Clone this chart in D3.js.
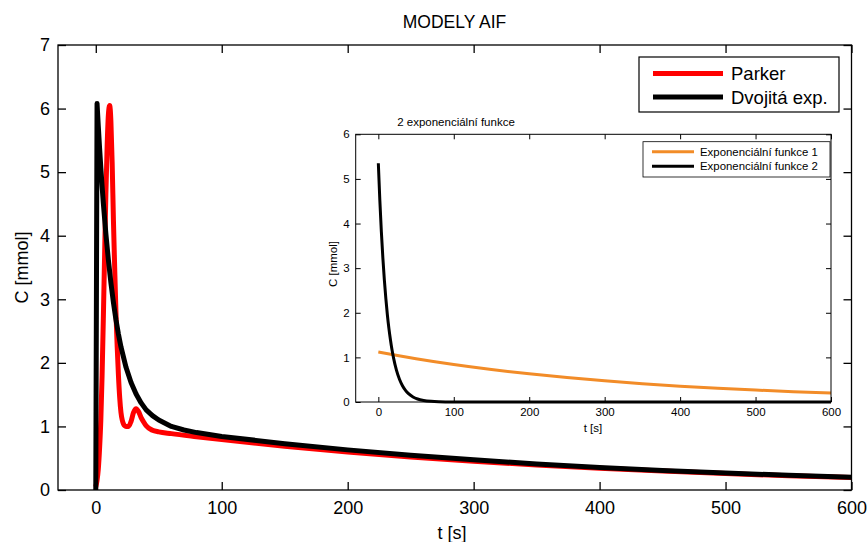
<!DOCTYPE html>
<html>
<head>
<meta charset="utf-8">
<script src="https://cdn.jsdelivr.net/npm/d3@7"></script>
<style>
  html, body { margin: 0; padding: 0; background: #fff; }
  svg { display: block; font-family: "Liberation Sans", Arial, sans-serif; }
</style>
</head>
<body>
<svg id="chart" width="867" height="542"></svg>
<script>
// ---- Main plot data: time [s] and concentration [mmol] ----
const parkerTime = [0, 1, 2, 3, 4, 5, 6, 7, 8, 9, 10, 11, 12, 13, 14, 15, 16, 17, 18, 19, 20, 21, 22, 23, 24, 26, 28, 30, 32, 34, 36, 38, 40, 45, 50, 60, 80, 100, 150, 200, 250, 300, 350, 400, 450, 500, 550, 600];
const parkerConc = [0.05, 0.15, 0.33, 0.65, 1.1, 1.8, 2.7, 3.7, 4.65, 5.4, 5.9, 6.05, 5.8, 5.15, 4.25, 3.5, 2.8, 2.25, 1.8, 1.45, 1.22, 1.1, 1.04, 1.01, 1.0, 1.0, 1.08, 1.22, 1.28, 1.23, 1.14, 1.07, 1.01, 0.94, 0.914, 0.887, 0.839, 0.793, 0.689, 0.599, 0.520, 0.452, 0.393, 0.342, 0.297, 0.258, 0.224, 0.195];

const dualTime = [0, 1, 2, 3, 4, 5, 6, 8, 10, 12, 14, 16, 18, 20, 24, 28, 32, 36, 40, 45, 50, 60, 70, 80, 100, 150, 200, 250, 300, 350, 400, 450, 500, 550, 600];
const dualConc = [0, 6.08, 5.72, 5.38, 5.07, 4.78, 4.51, 4.03, 3.62, 3.26, 2.95, 2.68, 2.45, 2.25, 1.93, 1.69, 1.51, 1.37, 1.26, 1.17, 1.10, 1.00, 0.944, 0.903, 0.843, 0.728, 0.631, 0.547, 0.474, 0.410, 0.355, 0.308, 0.267, 0.231, 0.200];

// ---- Inset data: the two exponential components ----
const exp1Time = [0, 50, 100, 150, 200, 250, 300, 350, 400, 450, 500, 550, 600];
const exp1Conc = [1.12, 0.970, 0.840, 0.728, 0.631, 0.547, 0.474, 0.410, 0.355, 0.308, 0.267, 0.231, 0.200];

const exp2Time = [0, 2, 4, 6, 8, 10, 12, 14, 16, 18, 20, 24, 28, 32, 36, 40, 46, 52, 60, 70, 80, 100, 120, 150, 200, 300, 400, 500, 600];
const exp2Conc = [5.35, 4.52, 3.82, 3.23, 2.73, 2.31, 1.95, 1.65, 1.40, 1.18, 1.00, 0.713, 0.509, 0.364, 0.260, 0.186, 0.112, 0.068, 0.035, 0.015, 0.0065, 0.0012, 0.0002, 0, 0, 0, 0, 0, 0];

// ---- Ticks and labels ----
const xTicks = [0, 100, 200, 300, 400, 500, 600];
const yTicksMain = [0, 1, 2, 3, 4, 5, 6, 7];
const yTicksInset = [0, 1, 2, 3, 4, 5, 6];
const mainTitle = "MODELY AIF";
const insetTitle = "2 exponenciální funkce";
const xLabel = "t [s]";
const yLabel = "C [mmol]";
const mainLegend = ["Parker", "Dvojitá exp."];
const insetLegend = ["Exponenciální funkce 1", "Exponenciální funkce 2"];

const RED = "#ff0000", BLACK = "#000000", ORANGE = "#f28c28";

const svg = d3.select("#chart");

function zip(ts, cs) { return ts.map((t, i) => [t, cs[i]]); }

// Draws a boxed axes with inward ticks on all four sides
function drawAxes(g, x, y, opts) {
  const [x0, x1] = x.range();
  const [y0, y1] = y.range();
  const ts = opts.tickSize;
  g.append("g").attr("transform", `translate(0,${y0})`)
    .call(d3.axisBottom(x).tickValues(opts.xTicks).tickSize(-ts).tickPadding(opts.xPad).tickFormat(d3.format("d")))
    .call(a => a.select(".domain").remove());
  g.append("g").attr("transform", `translate(0,${y1})`)
    .call(d3.axisTop(x).tickValues(opts.xTicks).tickSize(-ts).tickFormat(""))
    .call(a => a.select(".domain").remove());
  g.append("g").attr("transform", `translate(${x0},0)`)
    .call(d3.axisLeft(y).tickValues(opts.yTicks).tickSize(-ts).tickPadding(opts.yPad).tickFormat(d3.format("d")))
    .call(a => a.select(".domain").remove());
  g.append("g").attr("transform", `translate(${x1},0)`)
    .call(d3.axisRight(y).tickValues(opts.yTicks).tickSize(-ts).tickFormat(""))
    .call(a => a.select(".domain").remove());
  g.selectAll(".tick line").attr("stroke", "#000").attr("stroke-width", opts.lw);
  g.selectAll(".tick text").attr("fill", "#000").attr("font-size", opts.fontSize).attr("font-family", "Liberation Sans, Arial, sans-serif");
  g.append("rect")
    .attr("x", x0).attr("y", y1).attr("width", x1 - x0).attr("height", y0 - y1)
    .attr("fill", "none").attr("stroke", "#000").attr("stroke-width", opts.lw);
}

// ---------------- Main axes ----------------
const x = d3.scaleLinear().domain([-30, 600]).range([58, 851.5]);
const y = d3.scaleLinear().domain([0, 7]).range([490, 45]);

const main = svg.append("g");
const line = d3.line().x(d => x(d[0])).y(d => y(d[1])).curve(d3.curveMonotoneX);

main.append("path").datum(zip(parkerTime, parkerConc))
  .attr("d", line).attr("fill", "none").attr("stroke", RED)
  .attr("stroke-width", 5).attr("stroke-linejoin", "round");
main.append("path").datum(zip(dualTime, dualConc))
  .attr("d", d3.line().x(d => x(d[0])).y(d => y(d[1])))
  .attr("fill", "none").attr("stroke", BLACK)
  .attr("stroke-width", 5).attr("stroke-linejoin", "round");

drawAxes(main, x, y, { xTicks, yTicks: yTicksMain, tickSize: 8, xPad: 11, yPad: 8, lw: 1.3, fontSize: "18px" });

main.append("text").attr("x", 454.5).attr("y", 28).attr("text-anchor", "middle")
  .attr("font-size", "17.5px").text(mainTitle);
main.append("text").attr("x", 452).attr("y", 539).attr("text-anchor", "middle")
  .attr("font-size", "18px").text(xLabel);
main.append("text").attr("transform", "translate(28,267.5) rotate(-90)").attr("text-anchor", "middle")
  .attr("font-size", "18px").text(yLabel);

// Main legend
const lg = main.append("g");
lg.append("rect").attr("x", 639).attr("y", 57).attr("width", 200).attr("height", 55)
  .attr("fill", "#fff").attr("stroke", "#000").attr("stroke-width", 1.2);
[[RED, mainLegend[0], 73.5], [BLACK, mainLegend[1], 97]].forEach(([c, label, ly]) => {
  lg.append("line").attr("x1", 653).attr("x2", 723).attr("y1", ly).attr("y2", ly)
    .attr("stroke", c).attr("stroke-width", 5);
  lg.append("text").attr("x", 731).attr("y", ly).attr("dy", "0.36em")
    .attr("font-size", "18.5px").text(label);
});

// ---------------- Inset axes ----------------
const xi = d3.scaleLinear().domain([-30, 600]).range([355.7, 831]);
const yi = d3.scaleLinear().domain([0, 6]).range([402, 134.3]);

const inset = svg.append("g");
inset.append("rect").attr("x", 355.7).attr("y", 134.3).attr("width", 831 - 355.7).attr("height", 402 - 134.3)
  .attr("fill", "#fff");

const lineI = d3.line().x(d => xi(d[0])).y(d => yi(d[1])).curve(d3.curveMonotoneX);
inset.append("path").datum(zip(exp1Time, exp1Conc))
  .attr("d", lineI).attr("fill", "none").attr("stroke", ORANGE).attr("stroke-width", 3);
inset.append("path").datum(zip(exp2Time, exp2Conc))
  .attr("d", lineI).attr("fill", "none").attr("stroke", BLACK).attr("stroke-width", 3);

drawAxes(inset, xi, yi, { xTicks, yTicks: yTicksInset, tickSize: 5, xPad: 6, yPad: 6, lw: 1, fontSize: "11.5px" });

inset.append("text").attr("x", 456).attr("y", 126).attr("text-anchor", "middle")
  .attr("font-size", "11.5px").text(insetTitle);
inset.append("text").attr("x", 593).attr("y", 432).attr("text-anchor", "middle")
  .attr("font-size", "11.5px").text(xLabel);
inset.append("text").attr("transform", "translate(337,264) rotate(-90)").attr("text-anchor", "middle")
  .attr("font-size", "11.5px").text(yLabel);

// Inset legend
const li = inset.append("g");
li.append("rect").attr("x", 643).attr("y", 141.7).attr("width", 187).attr("height", 35.3)
  .attr("fill", "#fff").attr("stroke", "#000").attr("stroke-width", 0.8);
[[ORANGE, insetLegend[0], 151.7], [BLACK, insetLegend[1], 166.3]].forEach(([c, label, ly]) => {
  li.append("line").attr("x1", 652).attr("x2", 694).attr("y1", ly).attr("y2", ly)
    .attr("stroke", c).attr("stroke-width", 3);
  li.append("text").attr("x", 700).attr("y", ly).attr("dy", "0.36em")
    .attr("font-size", "11.4px").text(label);
});
</script>
</body>
</html>
